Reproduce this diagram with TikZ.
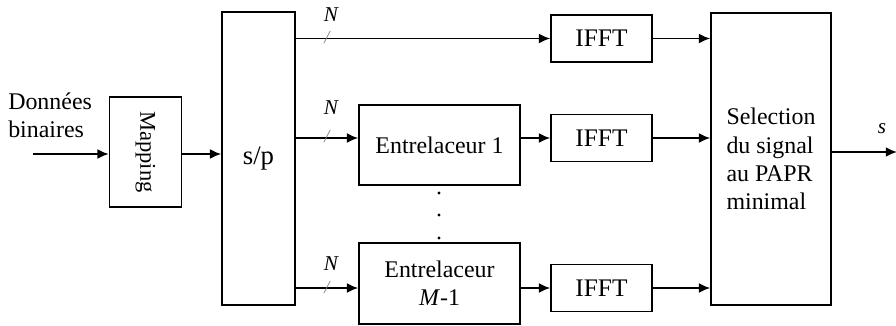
\documentclass[tikz,border=0pt]{standalone}
\usepackage{fontspec}
\setmainfont{Liberation Serif}
\usetikzlibrary{arrows.meta}
\tikzstyle{block} = [rectangle, draw=black, line width=1.1pt, inner sep=0, font=\fontsize{17}{20}\selectfont]
\tikzstyle{arrow} = [line width=1.3pt,-{Latex[length=8pt,width=7pt]}]
\tikzstyle{nlabel} = [font=\fontsize{15}{15}\selectfont\itshape, inner sep=0]
\tikzstyle{slash} = [font=\fontsize{13}{13}\selectfont\itshape, text=gray, inner sep=0]
\tikzstyle{smalldot}=[shape=circle,minimum size=0.8mm,inner sep=0,fill]

\begin{document}
\begin{tikzpicture}[x=0.025cm,y=-0.025cm]
\useasboundingbox (0,0) rectangle (896,325);

\node[block, minimum width=1.8cm, minimum height=2.75cm] (map) at (145.5,152) {\rotatebox{-90}{\fontsize{16}{16}\selectfont Mapping}};
\node[block, minimum width=1.825cm, minimum height=7.325cm, font=\fontsize{19}{19}\selectfont] (sp) at (258.5,158.5) {s/p};
\node[block, minimum width=4.025cm, minimum height=2cm] (entA) at (439.5,145) {Entrelaceur 1};
\node[block, minimum width=4.025cm, minimum height=2.025cm, align=center] (entB) at (439.5,283.5) {Entrelaceur\\ \textit{M}-1};
\node[block, minimum width=2.525cm, minimum height=1.175cm, font=\fontsize{18}{18}\selectfont] (ifftA) at (601.5,38.5) {IFFT};
\node[block, minimum width=2.525cm, minimum height=1.175cm, font=\fontsize{18}{18}\selectfont] (ifftB) at (601.5,138) {IFFT};
\node[block, minimum width=2.525cm, minimum height=1.175cm, font=\fontsize{18}{18}\selectfont] (ifftC) at (601.5,288) {IFFT};
\node[block, minimum width=3cm, minimum height=7.3cm, align=left] (sel) at (771,159) {Selection\\du signal\\au PAPR\\minimal};

\node[align=left, anchor=west, inner sep=0, font=\fontsize{17}{20}\selectfont] (data) at (8,115) {Données\\binaires};
\coordinate (in) at (33,154);
\coordinate (out) at (897,152);

\draw[arrow] (in) -- (in -| map.west);
\draw[arrow] (map.east |- in) -- (sp.west |- in);
\draw[arrow] (sp.east |- ifftA) -- (ifftA);
\draw[arrow] (sp.east |- ifftB) -- (entA.west |- ifftB);
\draw[arrow] (entA.east |- ifftB) -- (ifftB);
\draw[arrow] (sp.east |- ifftC) -- (entB.west |- ifftC);
\draw[arrow] (entB.east |- ifftC) -- (ifftC);
\foreach \n in {A,B,C}
	\draw[arrow] (ifft\n) -- (sel.west |- ifft\n);
\draw[arrow] (sel.east |- out) -- (out);

\foreach \y/\s [count=\i] in {15/38,108/137,264/288}{
	\node[nlabel] (N\i) at (331,\y) {N};
	\node[slash] (slash\i) at (327,\s) {/};
	}
\foreach \y [count=\i] in {193,215,238}
	\node[smalldot] (dot\i) at (439,\y) {};
\node[nlabel] (s) at (882,129) {s};
\end{tikzpicture}
\end{document}
